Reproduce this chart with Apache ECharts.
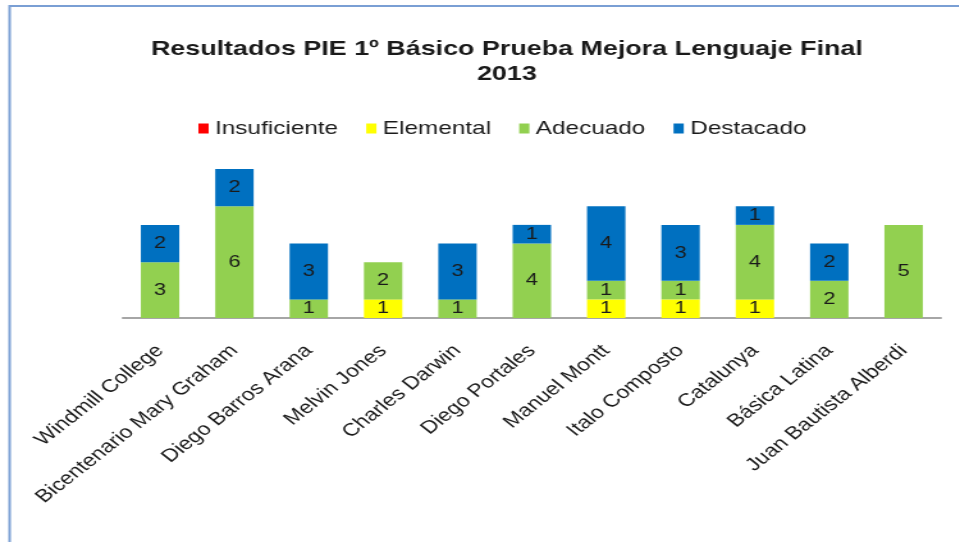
<!DOCTYPE html>
<html>
<head>
<meta charset="utf-8">
<style>
  html, body { margin: 0; padding: 0; background: #fff; overflow: hidden; }
  /* the reference picture is stretched sideways, so the chart is drawn narrow and widened */
  #chart { width: 749px; height: 542px; transform: scaleX(1.28); transform-origin: 0 0; }
</style>
<script src="https://cdn.jsdelivr.net/npm/echarts@6/dist/echarts.min.js"></script>
</head>
<body>
<div id="chart"></div>
<script>
// data
const schools = [
    'Windmill College', 'Bicentenario Mary Graham', 'Diego Barros Arana', 'Melvin Jones',
    'Charles Darwin', 'Diego Portales', 'Manuel Montt', 'Italo Composto',
    'Catalunya', 'Básica Latina', 'Juan Bautista Alberdi'
];
const insuficiente = [0, 0, 0, 0, 0, 0, 0, 0, 0, 0, 0];
const elemental = [0, 0, 0, 1, 0, 0, 1, 1, 1, 0, 0];
const adecuado = [3, 6, 1, 2, 1, 4, 1, 1, 4, 2, 5];
const destacado = [2, 2, 3, 0, 3, 1, 4, 3, 1, 2, 0];

const levels = [
    {name: 'Insuficiente', data: insuficiente, color: '#ff0000'},
    {name: 'Elemental', data: elemental, color: '#ffff00'},
    {name: 'Adecuado', data: adecuado, color: '#92d050'},
    {name: 'Destacado', data: destacado, color: '#0070c0'}
];

const font = '"Liberation Sans", Arial, sans-serif';

const chart = echarts.init(document.getElementById('chart'), null, {renderer: 'canvas'});

chart.setOption({
    animation: false,
    graphic: [{
        type: 'rect',
        shape: {x: 7.5, y: 6, width: 1000, height: 600},
        style: {fill: 'none', stroke: '#7a9fd4', lineWidth: 2},
        silent: true
    }],
    title: {
        text: 'Resultados PIE 1º Básico Prueba Mejora Lenguaje Final\n2013',
        left: 391,
        textAlign: 'center',
        top: 32,
        textStyle: {
            fontFamily: font,
            fontSize: 21,
            fontWeight: 'bold',
            color: '#1a1a1a',
            lineHeight: 25
        }
    },
    legend: {
        top: 114,
        left: 150,
        itemWidth: 8,
        itemHeight: 10,
        itemGap: 22,
        icon: 'rect',
        textStyle: {fontFamily: font, fontSize: 19, color: '#1a1a1a'},
        data: levels.map(l => l.name)
    },
    grid: {left: 96, right: 14, top: 169, bottom: 224, containLabel: false},
    xAxis: {
        type: 'category',
        data: schools,
        axisLine: {lineStyle: {color: '#a6a6a6', width: 2}},
        axisTick: {show: false},
        axisLabel: {
            interval: 0,
            rotate: 45,
            margin: 30,
            fontFamily: font,
            fontSize: 18,
            color: '#1a1a1a'
        }
    },
    yAxis: {
        type: 'value',
        min: 0,
        max: 8,
        show: false
    },
    series: levels.map(l => ({
        name: l.name,
        type: 'bar',
        stack: 'total',
        barWidth: 30,
        data: l.data,
        itemStyle: {color: l.color},
        label: {
            show: true,
            position: 'inside',
            fontFamily: font,
            fontSize: 17,
            color: '#1a1a1a',
            formatter: p => (p.value ? String(p.value) : '')
        }
    }))
});
</script>
</body>
</html>
